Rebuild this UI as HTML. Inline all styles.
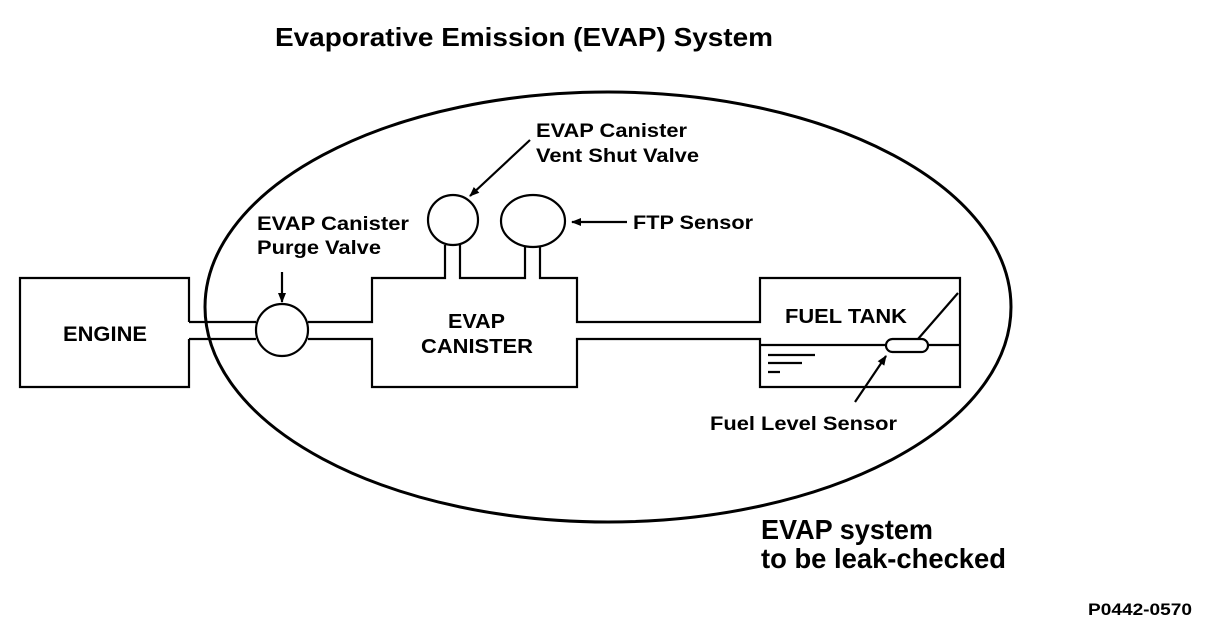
<!DOCTYPE html>
<html><head><meta charset="utf-8"><style>
html,body{margin:0;padding:0;background:#fff;width:1216px;height:630px;overflow:hidden}
svg{display:block}
text{font-family:"Liberation Sans",sans-serif;font-weight:bold;fill:#000}
</style></head><body>
<svg width="1216" height="630" viewBox="0 0 1216 630" xmlns="http://www.w3.org/2000/svg">
<defs><marker id="a" markerWidth="10" markerHeight="8" refX="9" refY="4" orient="auto" markerUnits="userSpaceOnUse"><path d="M0,0 L10,4 L0,8 Z" fill="#000"/></marker></defs>
<g fill="none" stroke="#000" stroke-width="2.2">
<ellipse cx="608" cy="307" rx="403" ry="215" stroke-width="3"/>
<path d="M189,322 V278 H20 V387 H189 V339"/>
<path d="M189,322 H256 M189,339 H256"/>
<circle cx="282" cy="330" r="26"/>
<path d="M308,322 H372 V278 H445 V245 M460,245 V278 H525 V247 M540,247 V278 H577 V322 H760 V278 H960 V387 H760 V339 H577 V387 H372 V339 H308"/>
<circle cx="453" cy="220" r="25"/>
<ellipse cx="533" cy="221" rx="32" ry="26"/>
<path d="M760,345 H886 M928,345 H960"/>
<rect x="886" y="339" width="42" height="13" rx="6.5"/>
<path d="M918,339 L958,293"/>
<path d="M768,355 H815 M768,363 H802 M768,372 H780"/>
<path d="M282,272 V302" marker-end="url(#a)"/>
<path d="M530,140 L470,196" marker-end="url(#a)"/>
<path d="M627,222 H572" marker-end="url(#a)"/>
<path d="M855,402 L886,356" marker-end="url(#a)"/>
</g>
<g lengthAdjust="spacingAndGlyphs">
<text x="275" y="46" font-size="26" textLength="498" lengthAdjust="spacingAndGlyphs">Evaporative Emission (EVAP) System</text>
<text x="536" y="137" font-size="19" textLength="151" lengthAdjust="spacingAndGlyphs">EVAP Canister</text>
<text x="536" y="162" font-size="19" textLength="163" lengthAdjust="spacingAndGlyphs">Vent Shut Valve</text>
<text x="633" y="229" font-size="19" textLength="120" lengthAdjust="spacingAndGlyphs">FTP Sensor</text>
<text x="257" y="230" font-size="19" textLength="152" lengthAdjust="spacingAndGlyphs">EVAP Canister</text>
<text x="257" y="254" font-size="19" textLength="124" lengthAdjust="spacingAndGlyphs">Purge Valve</text>
<text x="63" y="341" font-size="21" textLength="84" lengthAdjust="spacingAndGlyphs">ENGINE</text>
<text x="448" y="328" font-size="20" textLength="57" lengthAdjust="spacingAndGlyphs">EVAP</text>
<text x="421" y="353" font-size="20" textLength="112" lengthAdjust="spacingAndGlyphs">CANISTER</text>
<text x="785" y="323" font-size="20" textLength="122" lengthAdjust="spacingAndGlyphs">FUEL TANK</text>
<text x="710" y="430" font-size="19" textLength="187" lengthAdjust="spacingAndGlyphs">Fuel Level Sensor</text>
<text x="761" y="539" font-size="28" textLength="172" lengthAdjust="spacingAndGlyphs">EVAP system</text>
<text x="761" y="568" font-size="28" textLength="245" lengthAdjust="spacingAndGlyphs">to be leak-checked</text>
<text x="1088" y="615" font-size="17" textLength="104" lengthAdjust="spacingAndGlyphs">P0442-0570</text>
</g>
</svg>
</body></html>
